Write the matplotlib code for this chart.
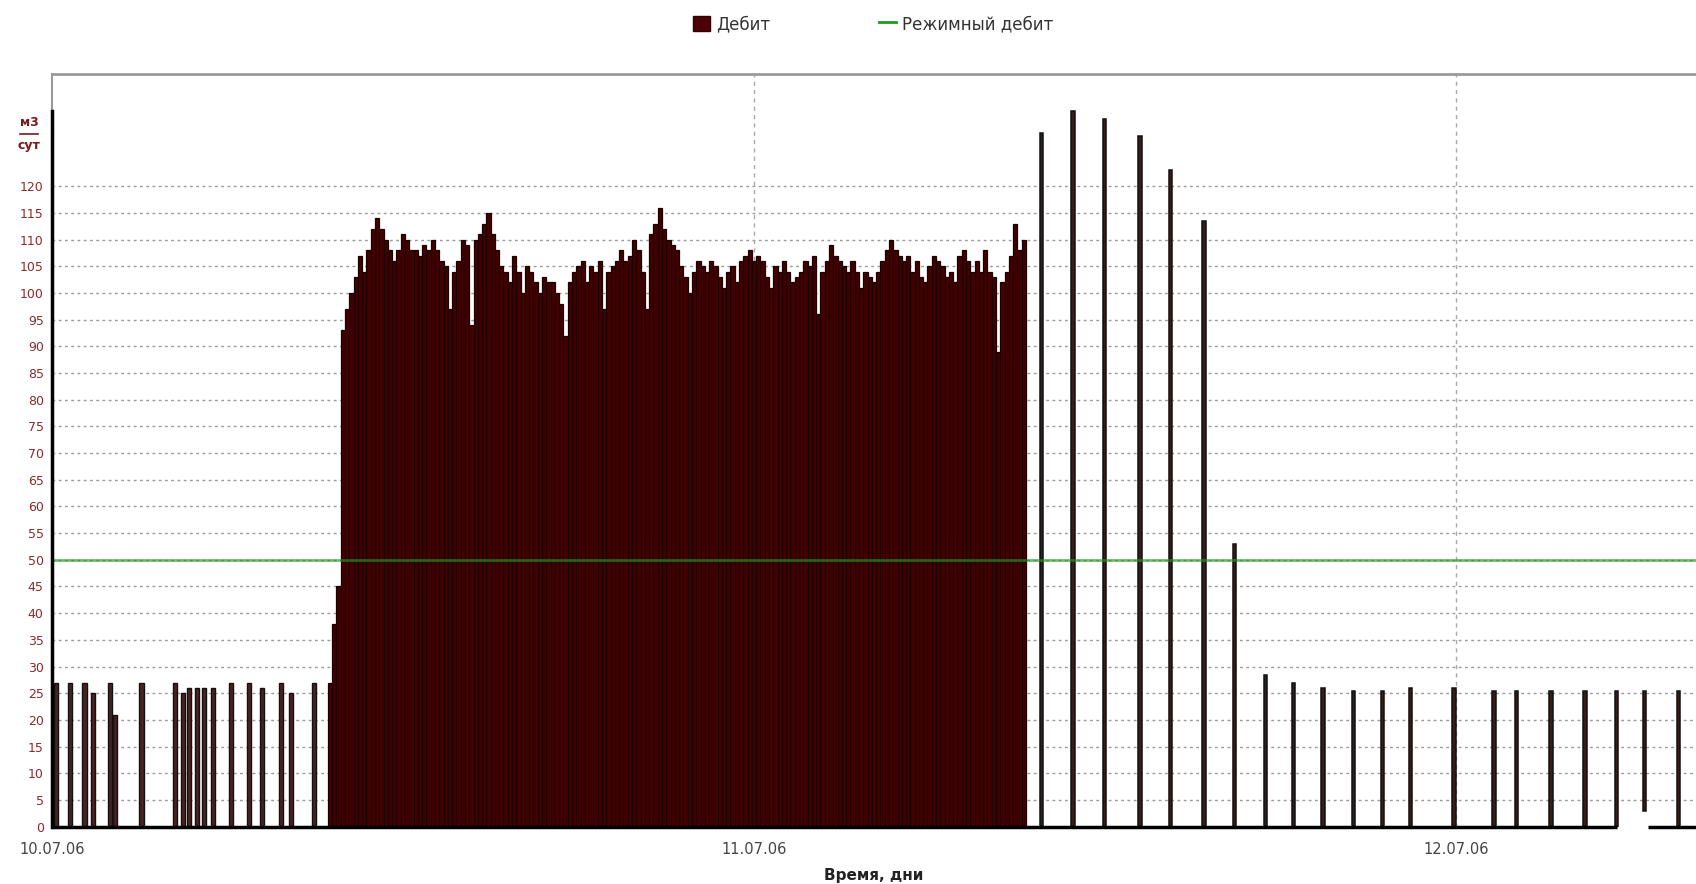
import matplotlib
matplotlib.use('Agg')
import matplotlib.pyplot as plt
from matplotlib.patches import Patch
from matplotlib.lines import Line2D
import numpy as np

# hours counted from 10.07.06 00:00
# sparse samples before the run
left_hours = [0.07, 0.55, 1.04, 1.33, 1.92, 2.07, 2.99, 4.14, 4.40, 4.62,
              4.88, 5.14, 5.44, 6.06, 6.66, 7.10, 7.77, 8.10, 8.88]
left_rate = [27, 27, 27, 25, 27, 21, 27, 27, 25, 26,
             26, 26, 26, 27, 27, 26, 27, 25, 27]

# continuous run (regular sampling between start and end)
run_start, run_end = 9.43, 33.29
run_rate = [27, 38, 45, 93, 97, 100, 103, 107, 104, 108,
            112, 114, 112, 110, 108, 106, 108, 111, 110, 108,
            108, 107, 109, 108, 110, 108, 106, 105, 97, 104,
            106, 110, 109, 94, 110, 111, 113, 115, 111, 108,
            105, 104, 102, 107, 104, 100, 105, 104, 102, 100,
            103, 102, 102, 100, 98, 92, 102, 104, 105, 106,
            102, 105, 104, 106, 97, 104, 105, 106, 108, 106,
            107, 110, 108, 104, 97, 111, 113, 116, 112, 110,
            109, 108, 105, 103, 100, 104, 106, 105, 104, 106,
            105, 103, 101, 104, 105, 102, 106, 107, 108, 106,
            107, 106, 103, 101, 105, 104, 106, 104, 102, 103,
            104, 106, 105, 107, 96, 104, 106, 109, 107, 106,
            105, 104, 106, 104, 101, 104, 103, 102, 104, 106,
            108, 110, 108, 107, 106, 107, 104, 106, 103, 102,
            105, 107, 106, 105, 103, 104, 102, 107, 108, 106,
            104, 106, 104, 108, 104, 103, 89, 102, 104, 107,
            113, 108, 110]

# sparse samples after the run
right_hours = [33.76, 34.84, 35.91, 37.13, 38.17, 39.31, 40.35, 41.42, 42.38, 43.38,
               44.42, 45.41, 46.38, 47.86, 49.22, 50.00, 51.18, 52.33, 53.42, 54.37, 55.54]
right_rate = [130, 134, 132.5, 129.5, 123, 113.5, 53, 28.5, 27, 26,
              25.5, 25.5, 26, 26, 25.5, 25.5, 25.5, 25.5, 25.5, 25.5, 25.5]
right_bottom = [0, 0, 0, 0, 0, 0, 0, 0, 0, 0,
                0, 0, 0, 0, 0, 0, 0, 0, 0, 3, 0]

regime_rate = 50
baseline_parts = [(0, 53.5), (54.55, 56.3)]

day_hours = [0, 24, 48]
day_labels = ['10.07.06', '11.07.06', '12.07.06']
y_ticks = list(range(0, 125, 5))

plt.rcParams['font.family'] = ['DejaVu Sans']

fig = plt.figure(figsize=(16.96, 8.84), dpi=100)
ax = fig.add_axes([52 / 1696, 57.4 / 884, 1 - 52 / 1696, 753 / 884])

# grid under bars
ax.hlines(y_ticks[1:], 0, 56.3, colors='#9a9a9a', linewidth=1.0,
          linestyles=(0, (2, 2.5)), zorder=0)
ax.vlines(day_hours[1:], 0, 141.1, colors='#a8a8a8', linewidth=1.0,
          linestyles=(0, (3, 3)), zorder=0)

run_step = (run_end - run_start) / len(run_rate)
run_hours = [run_start + i * run_step for i in range(len(run_rate))]
ax.bar(run_hours, run_rate, width=run_step, align='edge',
       color='#420000', edgecolor='#1c0000', linewidth=0.9, zorder=2)

ax.bar(left_hours, left_rate, width=0.14, align='edge',
       color='#4a2222', edgecolor='#111111', linewidth=1.0, zorder=2)
ax.bar(right_hours, np.array(right_rate) - np.array(right_bottom), bottom=right_bottom,
       width=0.12, align='edge', color='#3a1c1c', edgecolor='#111111',
       linewidth=1.1, zorder=2)

# regime line
ax.axhline(regime_rate, color='#1f991f', linewidth=2.0, alpha=0.65, zorder=3)

# baseline
for x0, x1 in baseline_parts:
    ax.plot([x0, x1], [0, 0], color='black', linewidth=2.5,
            solid_capstyle='butt', zorder=4, clip_on=False)
ax.plot([0, 0], [0, 134], color='black', linewidth=2.5, zorder=4, clip_on=False)

ax.set_xlim(0, 56.19)
ax.set_ylim(0, 141.1)

for side in ['right', 'bottom']:
    ax.spines[side].set_visible(False)
ax.spines['top'].set_color('#9a9a9a')
ax.spines['top'].set_linewidth(2.0)
ax.spines['left'].set_color('#9a9a9a')
ax.spines['left'].set_linewidth(1.5)

ax.set_yticks(y_ticks)
ax.set_yticklabels([str(v) for v in y_ticks], color='#8c2a2a', fontsize=9)
ax.tick_params(axis='y', length=0, pad=6)
ax.set_xticks(day_hours)
ax.set_xticklabels(day_labels, color='#444444', fontsize=10.5)
ax.tick_params(axis='x', length=0, pad=11)

ax.set_xlabel('Время, дни', fontsize=11, fontweight='bold', color='#222222', labelpad=8)

# unit label
fig.text(29 / 1696, 1 - 122 / 884, 'м3', ha='center', va='center',
         fontsize=9, fontweight='bold', color='#7a1a1a')
fig.add_artist(Line2D([20 / 1696, 38 / 1696], [1 - 134 / 884, 1 - 134 / 884],
                      color='#7a1a1a', linewidth=1.2))
fig.text(29 / 1696, 1 - 146 / 884, 'сут', ha='center', va='center',
         fontsize=9, fontweight='bold', color='#7a1a1a')

handles = [Patch(facecolor='#4e0008', edgecolor='#300000', label='Дебит'),
           Line2D([0], [0], color='#1f991f', linewidth=2, label='Режимный дебит')]
fig.legend(handles=handles, loc='center', bbox_to_anchor=(0.515, 1 - 24 / 884),
           ncol=2, frameon=False, fontsize=12, columnspacing=6.5,
           handlelength=1.0, handleheight=1.0, handletextpad=0.4,
           labelcolor='#333333')

fig.savefig('out.png', dpi=100)
